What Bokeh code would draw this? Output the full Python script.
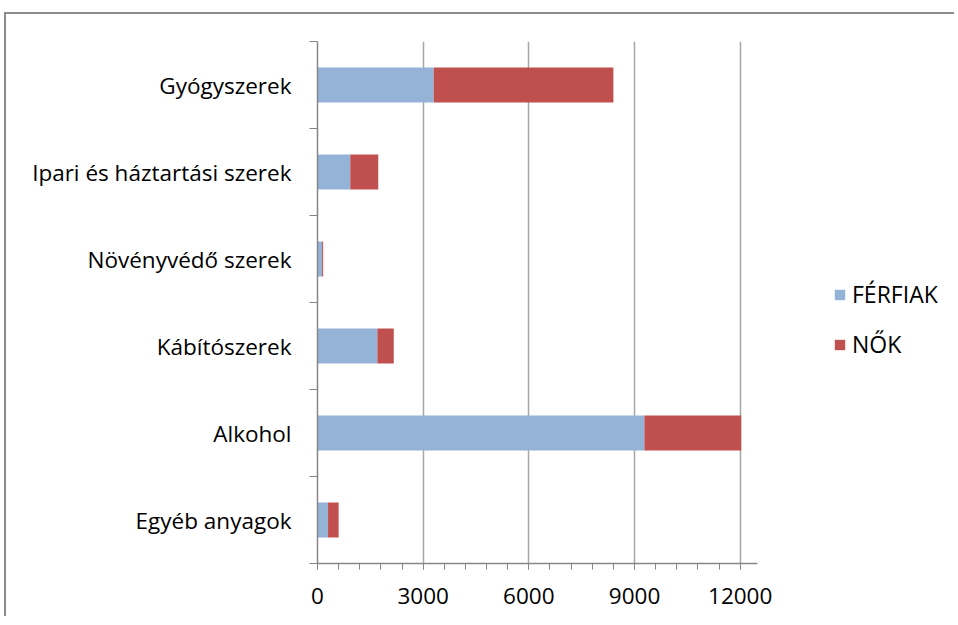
from bokeh.plotting import figure
from bokeh.models import ColumnDataSource, FixedTicker, Legend, LegendItem, Range1d
from bokeh.embed import file_html
from bokeh.resources import INLINE

categories = ["Gyógyszerek", "Ipari és háztartási szerek", "Növényvédő szerek",
              "Kábítószerek", "Alkohol", "Egyéb anyagok"]
ferfiak = [3300, 930, 130, 1700, 9280, 300]
nok = [5100, 795, 30, 465, 2750, 300]
x_ticks = [0, 3000, 6000, 9000, 12000]
x_minor_step = 600
x_axis_end = 12500
series_names = ["FÉRFIAK", "NŐK"]
colors = ["#95B3D7", "#C0504D"]

FONT = "Open Sans"
n = len(categories)
ypos = [n - i - 0.5 for i in range(n)]
src = ColumnDataSource(dict(y=ypos, ferfiak=ferfiak, nok=nok, cat=categories))

# frame extends to the right so the legend can live inside it
p = figure(width=950, height=604, output_backend="svg", toolbar_location=None,
           title=None,
           x_range=Range1d(0, 17857), y_range=Range1d(0, n),
           min_border_left=311, min_border_right=10,
           min_border_top=27, min_border_bottom=55)
p.styles = {"border-top": "2px solid #8C8C8C", "border-left": "2px solid #8C8C8C",
            "margin-top": "12px", "margin-left": "4px"}

rs = p.hbar_stack(["ferfiak", "nok"], y="y", height=0.4, color=colors,
                  line_color=None, source=src)

p.outline_line_color = None
p.background_fill_color = "white"
p.border_fill_color = "white"

# x axis
xt = FixedTicker(ticks=x_ticks,
                 minor_ticks=list(range(0, x_ticks[-1] + 1, x_minor_step)))
p.xaxis.ticker = xt
p.xaxis.bounds = (0, x_axis_end)
p.xaxis.axis_line_color = "#868686"
p.xaxis.axis_line_width = 1.5
p.xaxis.major_tick_line_color = "#868686"
p.xaxis.minor_tick_line_color = "#868686"
p.xaxis.major_tick_in = 0
p.xaxis.major_tick_out = 6
p.xaxis.minor_tick_in = 0
p.xaxis.minor_tick_out = 6
p.xaxis.major_label_text_font = FONT
p.xaxis.major_label_text_font_size = "22.5px"
p.xaxis.major_label_text_color = "#000000"
p.xaxis.major_label_standoff = 18

p.xgrid.ticker = xt
p.xgrid.grid_line_color = "#A6A6A6"
p.xgrid.grid_line_width = 1.5
p.ygrid.visible = False

# y axis
yt = FixedTicker(ticks=ypos, minor_ticks=list(range(n + 1)))
p.yaxis.ticker = yt
p.yaxis.major_label_overrides = {y: c for y, c in zip(ypos, categories)}
p.yaxis.axis_line_color = "#868686"
p.yaxis.axis_line_width = 1.5
p.yaxis.major_tick_in = 0
p.yaxis.major_tick_out = 0
p.yaxis.minor_tick_in = 0
p.yaxis.minor_tick_out = 8
p.yaxis.minor_tick_line_color = "#868686"
p.yaxis.major_label_text_font = FONT
p.yaxis.major_label_text_font_size = "22.5px"
p.yaxis.major_label_text_color = "#000000"
p.yaxis.major_label_standoff = 18

legend = Legend(items=[LegendItem(label=series_names[i], renderers=[rs[i]]) for i in range(2)],
                location=(516, 203), padding=0, margin=0, spacing=18,
                glyph_width=13, glyph_height=13, label_height=26,
                label_standoff=6, border_line_color=None,
                background_fill_alpha=0,
                label_text_font=FONT, label_text_font_size="23px",
                label_text_color="#000000")
p.add_layout(legend, "center")

open("out.html", "w").write(file_html(p, INLINE))
